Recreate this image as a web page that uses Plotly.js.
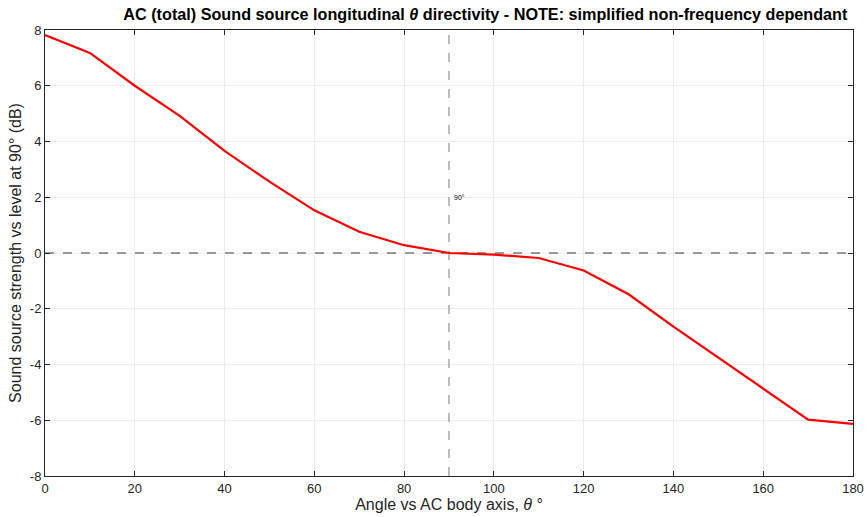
<!DOCTYPE html>
<html><head><meta charset="utf-8">
<script src="https://cdn.plot.ly/plotly-3.0.1.min.js"></script>
<style>html,body{margin:0;padding:0;background:#fff}#plot{width:867px;height:517px}</style>
</head><body><div id="plot"></div>
<script>
const angles = [0,10,20,30,40,50,60,70,80,90,100,110,120,130,140,150,160,170,180];
const levels = [7.82,7.18,6.0,4.92,3.66,2.56,1.53,0.76,0.28,0.0,-0.06,-0.18,-0.63,-1.48,-2.64,-3.76,-4.87,-5.98,-6.13];
const refAngle = 90;
const refLabel = '90°';
const xTicks = [0,20,40,60,80,100,120,140,160,180];
const yTicks = [-8,-6,-4,-2,0,2,4,6,8];

const fontFam = 'Liberation Sans, Arial, sans-serif';
const traces = [
  {x:[refAngle,refAngle], y:[-8,8], mode:'lines', line:{color:'#999999', width:1.3, dash:'dash'}, hoverinfo:'skip', showlegend:false},
  {x:[0,180], y:[0,0], mode:'lines', line:{color:'#7a7a7a', width:1.3, dash:'dash'}, hoverinfo:'skip', showlegend:false},
  {x:angles, y:levels, mode:'lines', line:{color:'#ff0000', width:2.2}, showlegend:false}
];
const axisCommon = {
  showline:true, mirror:'ticks', linecolor:'#262626', linewidth:1,
  showgrid:true, gridcolor:'#ececec', gridwidth:1, zeroline:false,
  ticks:'inside', ticklen:5, tickcolor:'#262626',
  tickfont:{family:fontFam, size:13, color:'#262626'}
};
const layout = {
  width:867, height:517,
  margin:{l:45, r:14, t:30, b:41},
  paper_bgcolor:'#ffffff', plot_bgcolor:'#ffffff',
  title:{text:'<b>AC (total) Sound source longitudinal <i>θ</i> directivity - NOTE: simplified non-frequency dependant</b>',
         font:{family:fontFam, size:16.2, color:'#000'}, x:0.545, xanchor:'center', xref:'paper', y:0.972, yanchor:'middle'},
  xaxis: Object.assign({}, axisCommon, {range:[0,180], tickvals:xTicks, ticktext:xTicks.map(String),
    title:{text:'Angle vs AC body axis, <i>θ</i> °', font:{family:fontFam, size:16, color:'#262626'}, standoff:2}}),
  yaxis: Object.assign({}, axisCommon, {range:[-8,8], tickvals:yTicks, ticktext:yTicks.map(String),
    title:{text:'Sound source strength vs level at 90° (dB)', font:{family:fontFam, size:16, color:'#262626'}, standoff:4}}),
  annotations:[{x:refAngle, y:2, xref:'x', yref:'y', text:refLabel, showarrow:false, xanchor:'left', yanchor:'middle', xshift:3,
    font:{family:fontFam, size:7, color:'#000'}}]
};
Plotly.newPlot('plot', traces, layout, {displayModeBar:false, staticPlot:true});
</script></body></html>
